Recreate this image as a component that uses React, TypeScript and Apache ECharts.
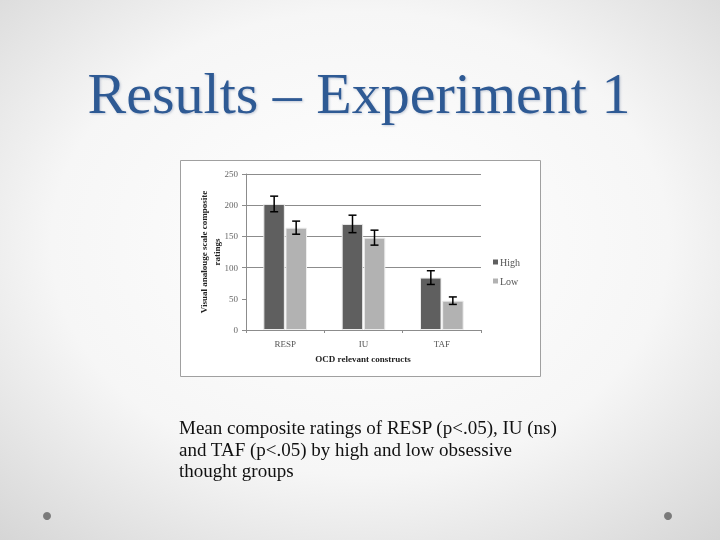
import React, { useEffect, useRef } from "react";
import * as echarts from "echarts";

const categories = ["RESP", "IU", "TAF"];
const highValues = [202, 170, 84];
const lowValues = [164, 148, 47];
const highErrors = [12.5, 14, 11];
const lowErrors = [10.5, 12, 6];
const yTicks = [0, 50, 100, 150, 200, 250];
const seriesNames = ["High", "Low"];

const titleText = "Results \u2013 Experiment 1";
const captionText =
  "Mean composite ratings of RESP (p<.05), IU (ns)\nand TAF (p<.05) by high and low obsessive\nthought groups";
const yAxisTitle = "Visual analouge scale composite\nratings";
const xAxisTitle = "OCD relevant constructs";

const SERIF = "'Liberation Serif', 'DejaVu Serif', serif";

export default function App() {
  const ref = useRef<HTMLDivElement>(null);

  useEffect(() => {
    if (!ref.current) return;
    const chart = echarts.init(ref.current, undefined, { renderer: "svg" });

    const errData: number[][] = [];
    categories.forEach((_, i) => {
      errData.push([i, highValues[i] - highErrors[i], highValues[i] + highErrors[i], 0]);
      errData.push([i, lowValues[i] - lowErrors[i], lowValues[i] + lowErrors[i], 1]);
    });

    const gridLineColors = yTicks.map((t) => (t >= 100 ? "#8c8c8c" : "rgba(0,0,0,0)"));

    const option: any = {
      animation: false,
      textStyle: { fontFamily: SERIF },
      graphic: [
        {
          type: "rect",
          z: -100,
          shape: { x: 0, y: 0, width: 720, height: 540 },
          style: {
            fill: new echarts.graphic.RadialGradient(0.5, 0.45, 0.78, [
              { offset: 0, color: "#ffffff" },
              { offset: 0.55, color: "#f6f6f6" },
              { offset: 1, color: "#d2d2d2" },
            ]),
          },
        },
        {
          type: "rect",
          z: -90,
          shape: { x: 180.5, y: 160.5, width: 360, height: 216 },
          style: { fill: "#ffffff", stroke: "#a0a0a0", lineWidth: 1 },
        },
        {
          type: "text",
          x: 359,
          y: 93,
          style: {
            text: titleText,
            font: `58px ${SERIF}`,
            fill: "#2f5a94",
            align: "center",
            verticalAlign: "middle",
            textShadowColor: "rgba(90,110,150,0.35)",
            textShadowBlur: 2,
            textShadowOffsetX: 1,
            textShadowOffsetY: 1,
          },
        },
        {
          type: "text",
          x: 179,
          y: 417,
          style: {
            text: captionText,
            font: `19px ${SERIF}`,
            fill: "#111111",
            align: "left",
            verticalAlign: "top",
            lineHeight: 21.5,
          },
        },
        {
          type: "text",
          x: 210,
          y: 252,
          rotation: Math.PI / 2,
          style: {
            text: yAxisTitle,
            font: `bold 9px ${SERIF}`,
            fill: "#222222",
            align: "center",
            verticalAlign: "middle",
            lineHeight: 13,
          },
        },
        {
          type: "text",
          x: 363,
          y: 359,
          style: {
            text: xAxisTitle,
            font: `bold 9px ${SERIF}`,
            fill: "#222222",
            align: "center",
            verticalAlign: "middle",
          },
        },
        { type: "circle", shape: { cx: 47, cy: 516, r: 4 }, style: { fill: "#7a7a7a" } },
        { type: "circle", shape: { cx: 668, cy: 516, r: 4 }, style: { fill: "#7a7a7a" } },
      ],
      legend: {
        orient: "vertical",
        left: 493,
        top: 257,
        padding: 0,
        icon: "rect",
        itemWidth: 5,
        itemHeight: 5,
        itemGap: 9,
        data: seriesNames,
        itemStyle: { borderWidth: 0 },
        textStyle: { fontFamily: SERIF, fontSize: 10, color: "#555555", padding: [0, 0, 0, -3] },
      },
      grid: { left: 246, right: 239, top: 174, bottom: 210, containLabel: false },
      xAxis: {
        type: "category",
        data: categories,
        axisLine: { lineStyle: { color: "#8c8c8c", width: 1 } },
        axisTick: { show: true, length: 3, lineStyle: { color: "#8c8c8c" } },
        axisLabel: { fontFamily: SERIF, fontSize: 9, color: "#555555", margin: 9 },
      },
      yAxis: {
        type: "value",
        min: 0,
        max: 250,
        interval: 50,
        axisLine: { show: true, lineStyle: { color: "#8c8c8c", width: 1 } },
        axisTick: { show: true, length: 4, lineStyle: { color: "#8c8c8c" } },
        axisLabel: { fontFamily: SERIF, fontSize: 9, color: "#666666", margin: 8 },
        splitLine: { show: true, lineStyle: { color: gridLineColors, width: 1 } },
      },
      series: [
        {
          name: seriesNames[0],
          type: "bar",
          data: highValues,
          barWidth: 21.5,
          barGap: "3%",
          itemStyle: { color: "#5f5f5f", borderColor: "#ececec", borderWidth: 1 },
        },
        {
          name: seriesNames[1],
          type: "bar",
          data: lowValues,
          barWidth: 21.5,
          barGap: "3%",
          itemStyle: { color: "#b2b2b2", borderColor: "#ececec", borderWidth: 1 },
        },
        {
          type: "custom",
          name: "errors",
          z: 10,
          data: errData,
          renderItem: (params: any, api: any) => {
            const cat = api.value(0);
            const lo = api.coord([cat, api.value(1)]);
            const hi = api.coord([cat, api.value(2)]);
            const which = api.value(3);
            const offset = which === 0 ? -11 : 11;
            const x = lo[0] + offset;
            const cap = 4;
            const st = { stroke: "#000000", lineWidth: 1.5 };
            return {
              type: "group",
              children: [
                { type: "line", shape: { x1: x, y1: lo[1], x2: x, y2: hi[1] }, style: st },
                { type: "line", shape: { x1: x - cap, y1: hi[1], x2: x + cap, y2: hi[1] }, style: st },
                { type: "line", shape: { x1: x - cap, y1: lo[1], x2: x + cap, y2: lo[1] }, style: st },
              ],
            };
          },
        },
      ],
    };

    chart.setOption(option);
    return () => chart.dispose();
  }, []);

  return (
    <div
      ref={ref}
      style={{ position: "fixed", left: 0, top: 0, width: 720, height: 540 }}
    />
  );
}
